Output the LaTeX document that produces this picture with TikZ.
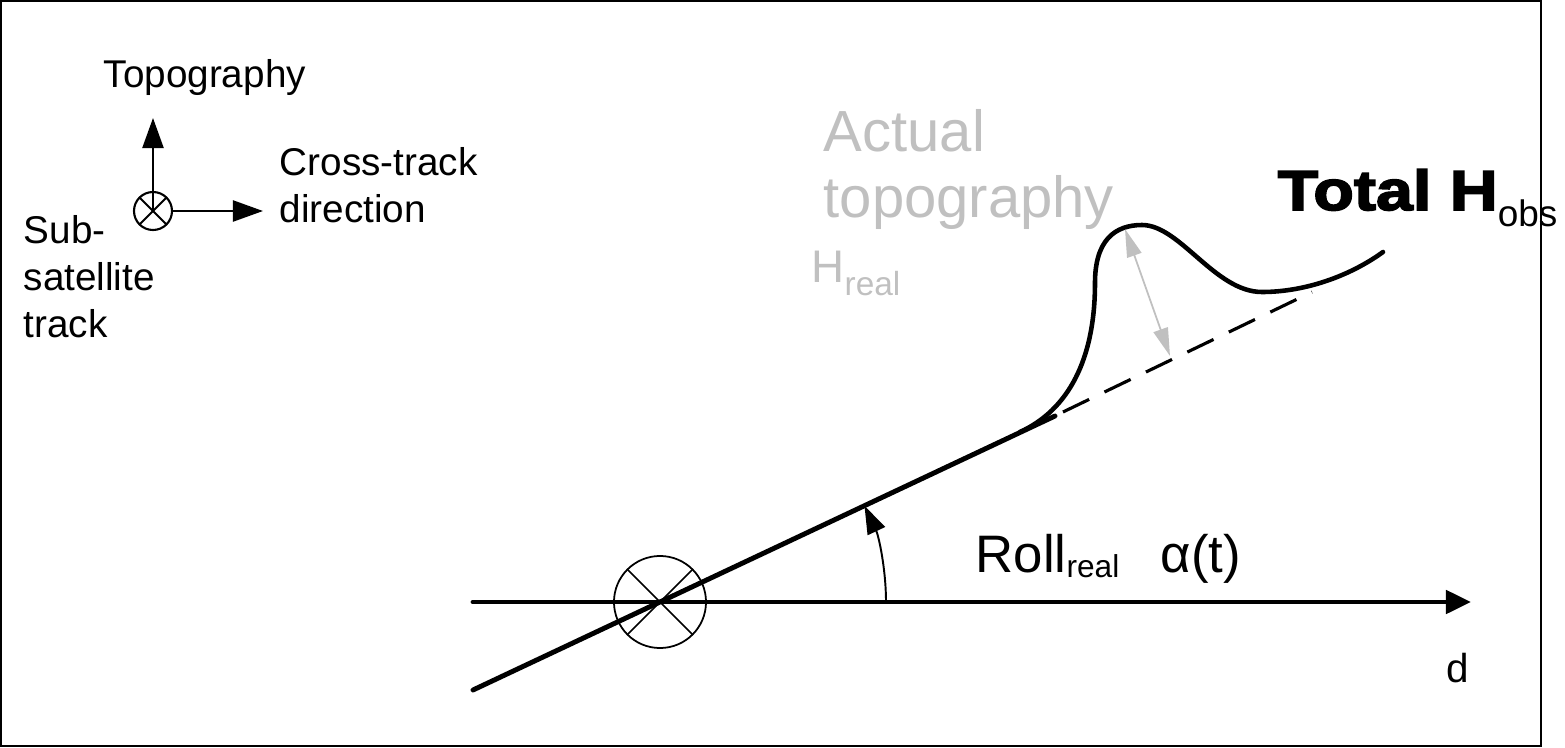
\documentclass[tikz,border=0pt]{standalone}
\usepackage{fontspec}
\setmainfont{Liberation Sans}
\newfontfamily\blackfont{Liberation Sans Bold}[FakeBold=3,FakeStretch=1.18]
\usepackage{xcolor}
\usepackage{tikz}
\usetikzlibrary{arrows.meta,positioning,calc}
\definecolor{lightgrey}{HTML}{C0C0C0}

\begin{document}
\begin{tikzpicture}[
    x=0.01cm, y=-0.01cm,
    lbl/.style={inner sep=0, anchor=base west, align=left, font=\fontsize{11}{13.3}\selectfont},
    greylbl/.style={inner sep=0, anchor=base west, align=left, text=lightgrey, font=\fontsize{16.5}{18.6}\selectfont},
    crossmark/.style={circle, draw, inner sep=0, outer sep=0},
    axisarr/.style={-{Triangle[length=0.3cm, width=0.21cm]}, line width=0.65pt},
    mainline/.style={line width=1.4pt, line cap=round},
    anglearr/.style={-{Triangle[length=0.28cm, width=0.19cm]}, line width=0.55pt},
    greyarr/.style={{Triangle[length=0.28cm, width=0.15cm]}-{Triangle[length=0.28cm, width=0.15cm]}, line width=0.5pt, draw=lightgrey}
]
    \useasboundingbox (0,0) rectangle (1565,748);
    \draw [line width=0.75pt] (1,1) rectangle (1541,746);

    % reference axes
    \node [crossmark, line width=0.6pt, minimum size=0.38cm] (smallx) at (153,211) {};
    \draw [line width=0.6pt] (smallx.north west) -- (smallx.south east);
    \draw [line width=0.6pt] (smallx.north east) -- (smallx.south west);
    \coordinate (uptip) at (153,118);
    \coordinate (righttip) at (263,211);
    \draw [axisarr] (smallx.center) -- (uptip);
    \draw [axisarr] (smallx.east) -- (righttip);
    % multi-line labels sit on the baseline of their last line
    \node [lbl] (topolbl) at (103,87) {Topography};
    \node [lbl] (crosslbl) at (279,222) {Cross-track\\direction};
    \node [lbl] (tracklbl) at (23,337) {Sub-\\satellite\\track};

    % roll geometry
    \node [crossmark, line width=0.5pt, minimum size=0.92cm] (nadir) at (660,602) {};
    \draw [line width=0.5pt] (nadir.north west) -- (nadir.south east);
    \draw [line width=0.5pt] (nadir.north east) -- (nadir.south west);
    \coordinate (axisL) at (473,602);
    \coordinate (axisR) at (1471,602);
    \coordinate (slopeL) at (473,690);
    \coordinate (slopeR) at (1055,416);
    \draw [mainline, -{Triangle[length=0.25cm, width=0.23cm]}] (axisL) -- (axisR);
    \draw [mainline] (slopeL) -- (slopeR);
    \draw [anglearr] ([shift={(226,0)}]nadir.center) arc[start angle=0, end angle=-25.2, radius=226];

    % topography
    \coordinate (hillfoot) at (1020,432);
    \coordinate (hillside) at (1095,283);
    \coordinate (peak) at (1142,225);
    \coordinate (valley) at (1262,292);
    \coordinate (hillend) at (1383,252);
    \draw [line width=1.3pt, line cap=round]
        (hillfoot) .. controls (1068,410) and (1095,360) .. (hillside)
        .. controls (1095,240) and (1115,225) .. (peak)
        .. controls (1180,225) and (1215,292) .. (valley)
        .. controls (1305,292) and (1350,276) .. (hillend);
    \coordinate (dashL) at (1063,412);
    \coordinate (dashR) at (1312,292);
    \draw [line width=0.9pt, dash pattern=on 0.29cm off 0.17cm] (dashL) -- (dashR);
    \coordinate (hreal) at (1125,229);
    \coordinate (hbase) at (1170,356);
    \draw [greyarr] (hreal) -- (hbase);

    % labels
    \node [greylbl] (actuallbl) at (823,217) {Actual\\topography};
    \node [inner sep=0, anchor=base west, text=lightgrey] (hreallbl) at (811,282)
        {\fontsize{13}{15}\selectfont H\raisebox{-3.7pt}{\fontsize{9.5}{11}\selectfont real}};
    \node [inner sep=0, anchor=base west] (hobslbl) at (1277,210)
        {{\blackfont\fontsize{16}{18}\selectfont Total H}\raisebox{-4.8pt}{\fontsize{10.5}{12}\selectfont obs}};
    \node [inner sep=0, anchor=base west] (rolllbl) at (975,572)
        {\fontsize{15}{17}\selectfont Roll\raisebox{-1.6pt}{\fontsize{9}{11}\selectfont real}};
    \node [inner sep=0, anchor=base west, font=\fontsize{15}{17}\selectfont] (alphalbl) at (1160,572) {α(t)};
    \node [inner sep=0, anchor=base west, font=\fontsize{11.5}{13}\selectfont] (dlbl) at (1446,682) {d};
\end{tikzpicture}
\end{document}
